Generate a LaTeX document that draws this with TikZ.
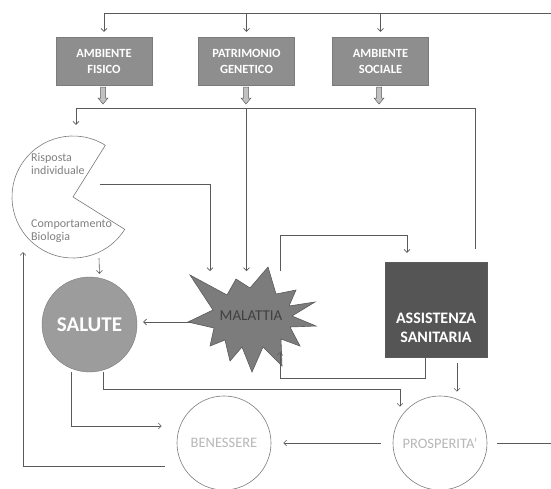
\documentclass[tikz,border=0pt]{standalone}
\usepackage{fontspec}
\setmainfont{Carlito}
\usetikzlibrary{arrows.meta}
\definecolor{linegrey}{HTML}{5A5A5A}
\definecolor{boxgrey}{HTML}{8E8E8E}
\definecolor{salgrey}{HTML}{9C9C9C}
\definecolor{malgrey}{HTML}{7C7C7C}
\definecolor{assgrey}{HTML}{555555}
\definecolor{faint}{HTML}{B8B8B8}
\newcommand*{\rpac}{61}
\newcommand*{\rout}{47}
\newcommand*{\hollowarrow}[1]{\draw [draw=linegrey, line width=0.5pt, fill=boxgrey!55] (#1) ++(-2.5,0) -- ++(0,11) -- ++(-2.5,0) -- ++(5,6) -- ++(5,-6) -- ++(-2.5,0) -- ++(0,-11) -- cycle;}
\tikzset{
    envbox/.style={rectangle, draw=linegrey!80, fill=boxgrey, text=white, align=center, inner sep=0pt,
        minimum width=96pt, minimum height=48pt, font=\bfseries\fontsize{12.5}{16}\selectfont},
    wire/.style={draw=linegrey, line width=0.6pt},
    link/.style={wire, -{Straight Barb[length=3pt,width=6pt]}},
    outcircle/.style={circle, draw=linegrey!80, line width=0.6pt, fill=white, text=faint, inner sep=0pt,
        minimum size=2*\rout pt, font=\fontsize{14.5}{18}\selectfont},
    pactext/.style={anchor=west, align=left, text=gray, inner sep=0pt, font=\fontsize{12}{12.5}\selectfont}
}

\begin{document}
\begin{tikzpicture}[x=1pt, y=-1pt]
    \useasboundingbox (0,0) rectangle (551,488);
    % determinanti
    \node [envbox] (fis) at (104,61)   {AMBIENTE\\FISICO};
    \node [envbox] (gen) at (246.5,61) {PATRIMONIO\\GENETICO};
    \node [envbox] (soc) at (380.5,61) {AMBIENTE\\SOCIALE};
    \coordinate (fisA) at (103,87);
    \coordinate (genA) at (246,87);
    \coordinate (socA) at (379,87);
    \hollowarrow{fisA}
    \hollowarrow{genA}
    \hollowarrow{socA}
    \coordinate (topR) at (551,13);
    \coordinate (busL) at (76,108);
    \coordinate (busR) at (475,108);
    \coordinate (outR) at (551,443);
    \coordinate (malT) at (246,271);
    \coordinate (malB) at (280,352);
    % risposta individuale
    \node [circle, minimum size=2*\rpac pt, inner sep=0pt] (pac) at (73,197) {};
    \draw [draw=linegrey!80, line width=0.6pt, fill=white] (pac.center) -- ++(-58:\rpac) arc [start angle=-58, end angle=-328, radius=\rpac] -- cycle;
    \node [pactext] (risp) at (31,164) {Risposta\\individuale};
    \node [pactext] (comp) at (31,231) {Comportamento\\Biologia};
    % esiti
    \node [circle, draw=linegrey!80, fill=salgrey, text=white, inner sep=0pt, minimum size=95pt, font=\bfseries\fontsize{21}{24}\selectfont] (sal) at (89.5,324.5) {SALUTE};
    \draw [draw=linegrey, line width=0.6pt, fill=malgrey] (190,275) -- (227,295) -- (236,279) -- (250,288) -- (268,267) -- (276,294) -- (296,290)
        -- (289,306) -- (315,302) -- (292,316) -- (316,326) -- (290,327) -- (300,346) -- (281,339) -- (282,366) -- (263,347)
        -- (252,372) -- (242,347) -- (230,361) -- (225,340) -- (210,346) -- (214,328) -- (188,322) -- (213,310) -- cycle;
    \node [text=black!75, inner sep=0pt, font=\fontsize{15}{18}\selectfont] (mal) at (251,316) {MALATTIA};
    \node [rectangle, draw=linegrey, fill=assgrey, minimum width=102pt, minimum height=95pt, inner sep=0pt] (ass) at (436,309.5) {};
    \node [text=white, align=center, inner sep=0pt, font=\bfseries\fontsize{16}{19}\selectfont] (asst) at (436,328) {ASSISTENZA\\SANITARIA};
    \node [outcircle] (ben) at (224,443) {BENESSERE};
    \node [outcircle] (pro) at (440,443) {PROSPERITA'};
    % collegamenti
    \draw [link, shorten >=5pt] (topR) -| (fis.north);
    \draw [link, shorten >=5pt] (gen.north |- topR) -- (gen.north);
    \draw [link, shorten >=5pt] (soc.north |- topR) -- (soc.north);
    \draw [wire] (busL) -- (busR);
    \draw [link, shorten >=11pt] (busL) -- (busL |- pac.north);
    \draw [wire, shorten >=13pt] (busR) -- (busR |- ass.north);
    \draw [link] (gen.south |- busL) -- (gen.south |- malT);
    \draw [link] ([shift={(27,-13)}]pac.center) -| ([xshift=-36pt]malT);
    \draw [link] ([xshift=26pt]pac.south) -- ([xshift=10pt,yshift=3pt]sal.north);
    \draw [link] ([xshift=34pt]malT) |- ([xshift=-29pt,yshift=27pt]ass.north) -- ([xshift=-29pt,yshift=9pt]ass.north);
    \draw [link] ([xshift=-11pt]ass.south) -- ++(0,21) -| (malB);
    \draw [link] ([xshift=21pt,yshift=-6pt]ass.south) -- ([xshift=17pt,yshift=4pt]pro.north);
    \draw [link, shorten >=6pt] (192,322) -- (sal.east |- 192,322);
    \draw [link] ([xshift=13.5pt]sal.south) -- ++(0,17) -| ([xshift=-40pt,yshift=-11pt]pro.north);
    \draw [link] ([xshift=-18.5pt]sal.south) |- ([xshift=-15pt,yshift=17pt]ben.west);
    \draw [link, shorten <=12pt, shorten >=12pt] (pro.west) -- (ben.east);
    \draw [wire, shorten <=10pt] (pro.east) -- (outR);
    \draw [link] ([xshift=-12pt,yshift=-23pt]ben.west) -| ([shift={(-50,55)}]pac.center);
\end{tikzpicture}
\end{document}
